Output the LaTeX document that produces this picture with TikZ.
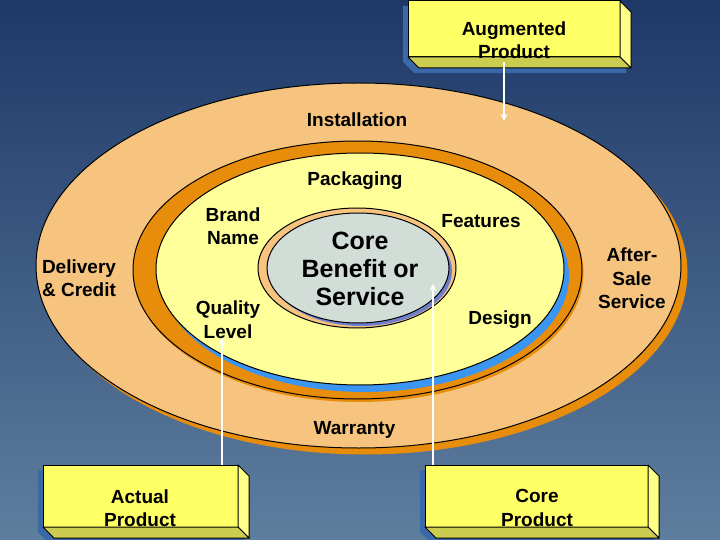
\documentclass[tikz,border=0pt]{standalone}
\usepackage{fontspec}
\setmainfont{Liberation Sans}
\usetikzlibrary{arrows.meta}
\definecolor{bgtop}{HTML}{1E3868}
\definecolor{bgbot}{HTML}{5E7E9E}
\definecolor{lightorange}{HTML}{F6C47E}
\definecolor{darkorange}{HTML}{E88C0C}
\definecolor{paleyellow}{HTML}{FFFF99}
\definecolor{ringblue}{HTML}{3A96F0}
\definecolor{coregrey}{HTML}{D3DDD8}
\definecolor{coreshadow}{HTML}{6E7FD0}
\definecolor{boxfront}{HTML}{FFFF66}
\definecolor{boxside}{HTML}{FFFF88}
\definecolor{boxbottom}{HTML}{CCCC50}
\definecolor{boxshadow}{HTML}{3A68A8}
\newcommand{\threedbox}[5]{%
  \fill[boxshadow] (#2-5,#3+5) -- ++(#4,0) -- ++(11,11) -- ++(0,#5) -- ++(-#4,0) -- ++(-11,-11) -- cycle;
  \node[front, minimum width=#4pt, minimum height=#5pt] (#1) at (#2,#3) {};
  \filldraw[fill=boxside, rim] (#1.north east) -- ++(11,11) -- ++(0,#5) -- (#1.south east) -- cycle;
  \filldraw[fill=boxbottom, rim] (#1.south west) -- (#1.south east) -- ++(11,11) -- ++(-#4,0) -- cycle;
}
\begin{document}
\begin{tikzpicture}[x=1pt,y=-1pt,
  lbl/.style={font=\bfseries\fontsize{19}{23.5}\selectfont, align=center, inner sep=0pt, text=black},
  corelbl/.style={font=\bfseries\fontsize{25}{28}\selectfont, align=center, inner sep=0pt, text=black},
  front/.style={draw=black, line width=1pt, fill=boxfront, rectangle, inner sep=0pt, outer sep=0pt, anchor=north west},
  rim/.style={draw=black, line width=1pt, line join=round},
  ptr/.style={draw=white, line width=2pt, -{Stealth[length=7pt,width=7pt]}}]
\useasboundingbox (0,0) rectangle (720,540);
\shade[top color=bgtop, bottom color=bgbot] (0,0) rectangle (720,540);
% outer ellipse
\fill[darkorange] (365,272) ellipse [x radius=322.5, y radius=182.5];
\filldraw[fill=lightorange, rim] (358.5,265.5) ellipse [x radius=322.5, y radius=182.5];
% middle band
\fill[darkorange] (359,273) ellipse [x radius=224.5, y radius=129];
\filldraw[fill=darkorange, rim] (357.5,270) ellipse [x radius=224.5, y radius=129];
\fill[ringblue] (365,276) ellipse [x radius=204, y radius=116];
\filldraw[fill=paleyellow, rim] (360,269) ellipse [x radius=204, y radius=116];
% core
\filldraw[fill=lightorange, rim] (357,268) ellipse [x radius=99, y radius=60];
\fill[coreshadow] (361,271) ellipse [x radius=91, y radius=55];
\filldraw[fill=coregrey, rim] (358,268) ellipse [x radius=91, y radius=55];
% labels
\node[lbl] (inst) at (357,120) {Installation};
\node[lbl] (pack) at (355,181) {Packaging};
\node[lbl] (brand) at (233,226) {Brand\\Name};
\node[lbl] (qual) at (228,319.5) {Quality\\Level};
\node[lbl] (deliv) at (79,278) {Delivery\\\& Credit};
\node[corelbl] (core) at (360,269) {Core\\Benefit or\\Service};
\node[lbl] (feat) at (481,221) {Features};
\node[lbl] (design) at (500,320) {Design};
\node[lbl] (after) at (632,278.5) {After-\\Sale\\Service};
\node[lbl] (warr) at (354.5,430) {Warranty};
% arrow targets
\coordinate (augtip) at (504,121);
\coordinate (qualtip) at (222,338);
\coordinate (coretip) at (433,284);
% boxes
\threedbox{aug}{408}{1}{212}{56}
\node[lbl] (augt) at (514,40) {Augmented\\Product};
\draw[ptr] ([yshift=-5pt]aug.south -| augtip) -- (augtip);
\draw[ptr] (qualtip |- 0,465) -- (qualtip);
\draw[ptr] (coretip |- 0,465) -- (coretip);
\threedbox{act}{43}{465}{195}{62}
\node[lbl] (actt) at (140,508) {Actual\\Product};
\threedbox{corebox}{425}{465}{223}{62}
\node[lbl] (coret) at (537,508) {Core\\Product};
\end{tikzpicture}
\end{document}
